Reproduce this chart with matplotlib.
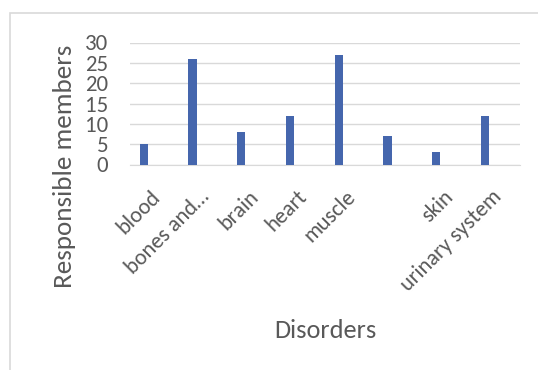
import matplotlib
matplotlib.use('Agg')
import matplotlib.pyplot as plt
import matplotlib.transforms as mtransforms
from matplotlib.patches import Rectangle

categories = ['blood', 'bones and…', 'brain', 'heart', 'muscle', '', 'skin', 'urinary system']
members = [5, 26, 8, 12, 27, 7, 3, 12]
yticks = [0, 5, 10, 15, 20, 25, 30]

plt.rcParams['font.family'] = ['Carlito', 'Lato', 'DejaVu Sans']
text_color = '#595959'
grid_color = '#d9d9d9'
bar_color = '#4566ad'

fig = plt.figure(figsize=(5.38, 3.70), dpi=100)
ax = fig.add_axes([130 / 538, 1 - 164.5 / 370, (520 - 130) / 538, (164.5 - 42.5) / 370])

x = list(range(len(categories)))
# bar sits left of the category centre (clustered layout, single series)
ax.bar([i - 0.22 for i in x], members, width=0.17, color=bar_color, zorder=3)

ax.set_xlim(-0.5, len(categories) - 0.5)
ax.set_ylim(0, 30)
ax.set_yticks(yticks)
ax.yaxis.grid(True, color=grid_color, linewidth=1, zorder=0)
for s in ['top', 'right', 'left']:
    ax.spines[s].set_visible(False)
ax.spines['bottom'].set_color(grid_color)
ax.spines['bottom'].set_zorder(1)
ax.tick_params(axis='both', length=0, colors=text_color)
ax.tick_params(axis='y', pad=15.5, labelsize=16.5)
ax.tick_params(axis='x', labelsize=16)

ax.set_xticks(x)
ax.set_xticklabels(categories, rotation=45, ha='right', va='top', rotation_mode='anchor')
offset = mtransforms.ScaledTranslation(-4 / 100, -17 / 100, fig.dpi_scale_trans)
for lbl in ax.get_xticklabels():
    lbl.set_transform(lbl.get_transform() + offset)

fig.text(65 / 538, 1 - 166 / 370, 'Responsible members', rotation=90, ha='center', va='center',
         fontsize=19.5, color=text_color)
fig.text(325 / 538, 1 - 330 / 370, 'Disorders', ha='center', va='center',
         fontsize=19, color=text_color)

# chart border
fig.patches.append(Rectangle((9.5 / 538, -0.1), 1.2, 1 - 13.5 / 370 + 0.1, transform=fig.transFigure,
                             fill=False, edgecolor=grid_color, linewidth=1.2, figure=fig))

fig.savefig('out.png', dpi=100)
